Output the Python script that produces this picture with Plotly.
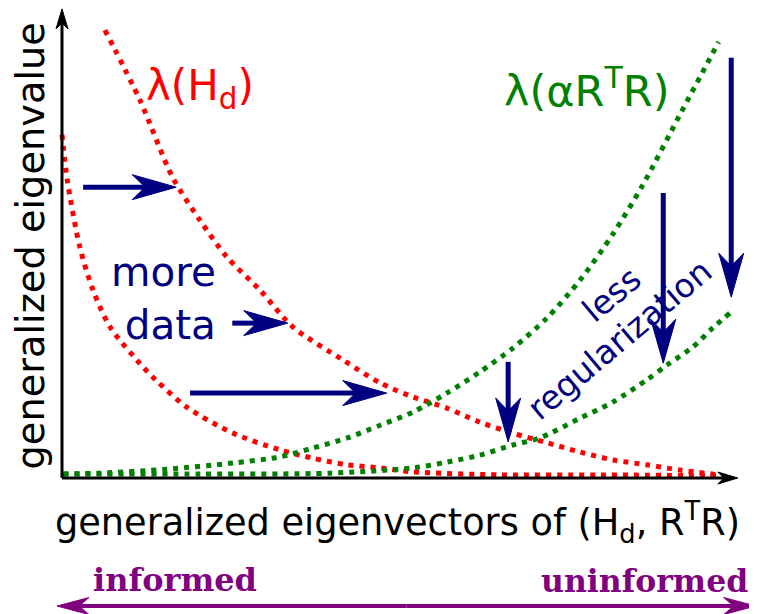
import math
import plotly.graph_objects as go

# ---- data (normalized eigenvector index x, normalized eigenvalue y) ----
red_hi_x = [0.065, 0.118, 0.168, 0.209, 0.250, 0.300, 0.350, 0.426, 0.482, 0.532, 0.583,
            0.633, 0.683, 0.735, 0.785, 0.835, 0.886, 0.936, 0.997]
red_hi_y = [1.018, 0.859, 0.682, 0.586, 0.502, 0.427, 0.343, 0.268, 0.216, 0.184, 0.159,
            0.127, 0.102, 0.080, 0.059, 0.041, 0.030, 0.018, 0.007]

red_lo_x = [0.0, 0.008, 0.027, 0.047, 0.073, 0.123, 0.142, 0.189, 0.259, 0.330, 0.380,
            0.432, 0.482, 0.532, 0.664, 0.815, 1.0]
red_lo_y = [0.780, 0.677, 0.525, 0.427, 0.343, 0.252, 0.223, 0.161, 0.102, 0.064, 0.045,
            0.030, 0.023, 0.014, 0.007, 0.007, 0.005]

green_hi_x = [0.002, 0.058, 0.159, 0.259, 0.330, 0.380, 0.432, 0.482, 0.532, 0.583, 0.633,
              0.683, 0.735, 0.785, 0.835, 0.880, 0.936, 0.995]
green_hi_y = [0.009, 0.011, 0.020, 0.034, 0.048, 0.068, 0.091, 0.120, 0.150, 0.193, 0.241,
              0.295, 0.364, 0.450, 0.555, 0.666, 0.825, 0.991]

green_lo_x = [0.002, 0.209, 0.406, 0.532, 0.583, 0.633, 0.683, 0.724, 0.785, 0.835, 0.886,
              0.917, 0.956, 0.986, 1.012]
green_lo_y = [0.009, 0.009, 0.011, 0.023, 0.036, 0.052, 0.075, 0.091, 0.136, 0.173, 0.223,
              0.257, 0.298, 0.341, 0.375]

# blue arrows: (tail_x, tail_y, tip_x, tip_y)
data_arrows = [(0.032, 0.661, 0.173, 0.661),
               (0.258, 0.352, 0.342, 0.352),
               (0.194, 0.193, 0.492, 0.193)]
reg_arrows = [(0.676, 0.264, 0.676, 0.082),
              (0.911, 0.648, 0.911, 0.261),
              (1.014, 0.955, 1.014, 0.411)]

# axes arrows
y_axis_arrow = (0.0, 0.0, 0.0, 1.066)
x_axis_arrow = (0.0, 0.0, 1.024, 0.0)
info_arrow = (-0.0076, 1.051, -0.291)   # x_left, x_right, y

# the page body adds an 8px offset, so the figure is 8px smaller than the window
W, H = 749, 606
XR = [-0.081818, 1.05303]
YR = [-0.30909, 1.06818]
KX = W / (XR[1] - XR[0])
KY = H / (YR[1] - YR[0])

NAVY = "#000080"
PURPLE = "#800080"

fig = go.Figure()

DOT = "5px,6px"
for xs, ys, c in [(red_hi_x, red_hi_y, "#ff0000"), (red_lo_x, red_lo_y, "#ff0000"),
                  (green_hi_x, green_hi_y, "#008000"), (green_lo_x, green_lo_y, "#008000")]:
    fig.add_trace(go.Scatter(x=xs, y=ys, mode="lines",
                             line=dict(color=c, width=5, dash=DOT, shape="spline", smoothing=0.8),
                             hoverinfo="skip"))


def arrow(tx0, ty0, tx1, ty1, color, width, hl, hw, notch):
    dx = (tx1 - tx0) * KX
    dy = (ty1 - ty0) * KY
    L = math.hypot(dx, dy)
    ux, uy = dx / L, dy / L
    px, py = -uy, ux

    def pt(ox, oy):
        return tx1 + ox / KX, ty1 + oy / KY

    c1 = pt(-ux * hl + px * hw, -uy * hl + py * hw)
    nt = pt(-ux * (hl - notch), -uy * (hl - notch))
    c2 = pt(-ux * hl - px * hw, -uy * hl - py * hw)
    fig.add_trace(go.Scatter(x=[tx0, nt[0]], y=[ty0, nt[1]], mode="lines",
                             line=dict(color=color, width=width), hoverinfo="skip"))
    fig.add_trace(go.Scatter(x=[tx1, c1[0], nt[0], c2[0], tx1],
                             y=[ty1, c1[1], nt[1], c2[1], ty1],
                             mode="lines", fill="toself", fillcolor=color,
                             line=dict(color=color, width=1), hoverinfo="skip"))


for a in data_arrows + reg_arrows:
    arrow(*a, NAVY, 5, 44, 12.5, 13)

arrow(*y_axis_arrow, "black", 3, 20, 6, 6)
arrow(*x_axis_arrow, "black", 3, 20, 6, 6)

xl, xr, yy = info_arrow
xm = (xl + xr) / 2
arrow(xm, yy, xl, yy, PURPLE, 4, 32, 8.5, 10)
arrow(xm, yy, xr, yy, PURPLE, 4, 32, 8.5, 10)

SANS = "DejaVu Sans"
ann = [
    dict(x=0.209, y=0.886, text="λ(H<sub>d</sub>)", font=dict(size=42, color="#ff0000", family=SANS)),
    dict(x=0.795, y=0.886, text="λ(αR<sup>T</sup>R)", font=dict(size=43, color="#008000", family=SANS)),
    dict(x=0.236, y=0.409, text="more<br>data", align="right", xanchor="right",
         font=dict(size=40.5, color=NAVY, family=SANS)),
    dict(x=0.833, y=0.416, text="less", textangle=-40, font=dict(size=33, color=NAVY, family=SANS)),
    dict(x=0.845, y=0.314, text="regularization", textangle=-40,
         font=dict(size=33, color=NAVY, family=SANS)),
    dict(x=0.508, y=-0.10, text="generalized eigenvectors of (H<sub>d</sub>, R<sup>T</sup>R)",
         font=dict(size=36.7, color="black", family=SANS)),
    dict(x=-0.048, y=0.527, text="generalized eigenvalue", textangle=-90,
         font=dict(size=38.3, color="black", family=SANS)),
    dict(x=0.171, y=-0.232, text="<b>informed</b>",
         font=dict(size=32, color=PURPLE, family="DejaVu Serif")),
    dict(x=0.882, y=-0.232, text="<b>uninformed</b>",
         font=dict(size=31.5, color=PURPLE, family="DejaVu Serif")),
]
for a in ann:
    a.setdefault("xanchor", "center")
    a.setdefault("yanchor", "middle")
    fig.add_annotation(xref="x", yref="y", showarrow=False, **a)

fig.update_layout(
    width=W, height=H, margin=dict(l=0, r=0, t=0, b=0),
    paper_bgcolor="white", plot_bgcolor="white", showlegend=False,
    xaxis=dict(range=XR, visible=False, fixedrange=True),
    yaxis=dict(range=YR, visible=False, fixedrange=True),
)

fig.write_html("out.html")
